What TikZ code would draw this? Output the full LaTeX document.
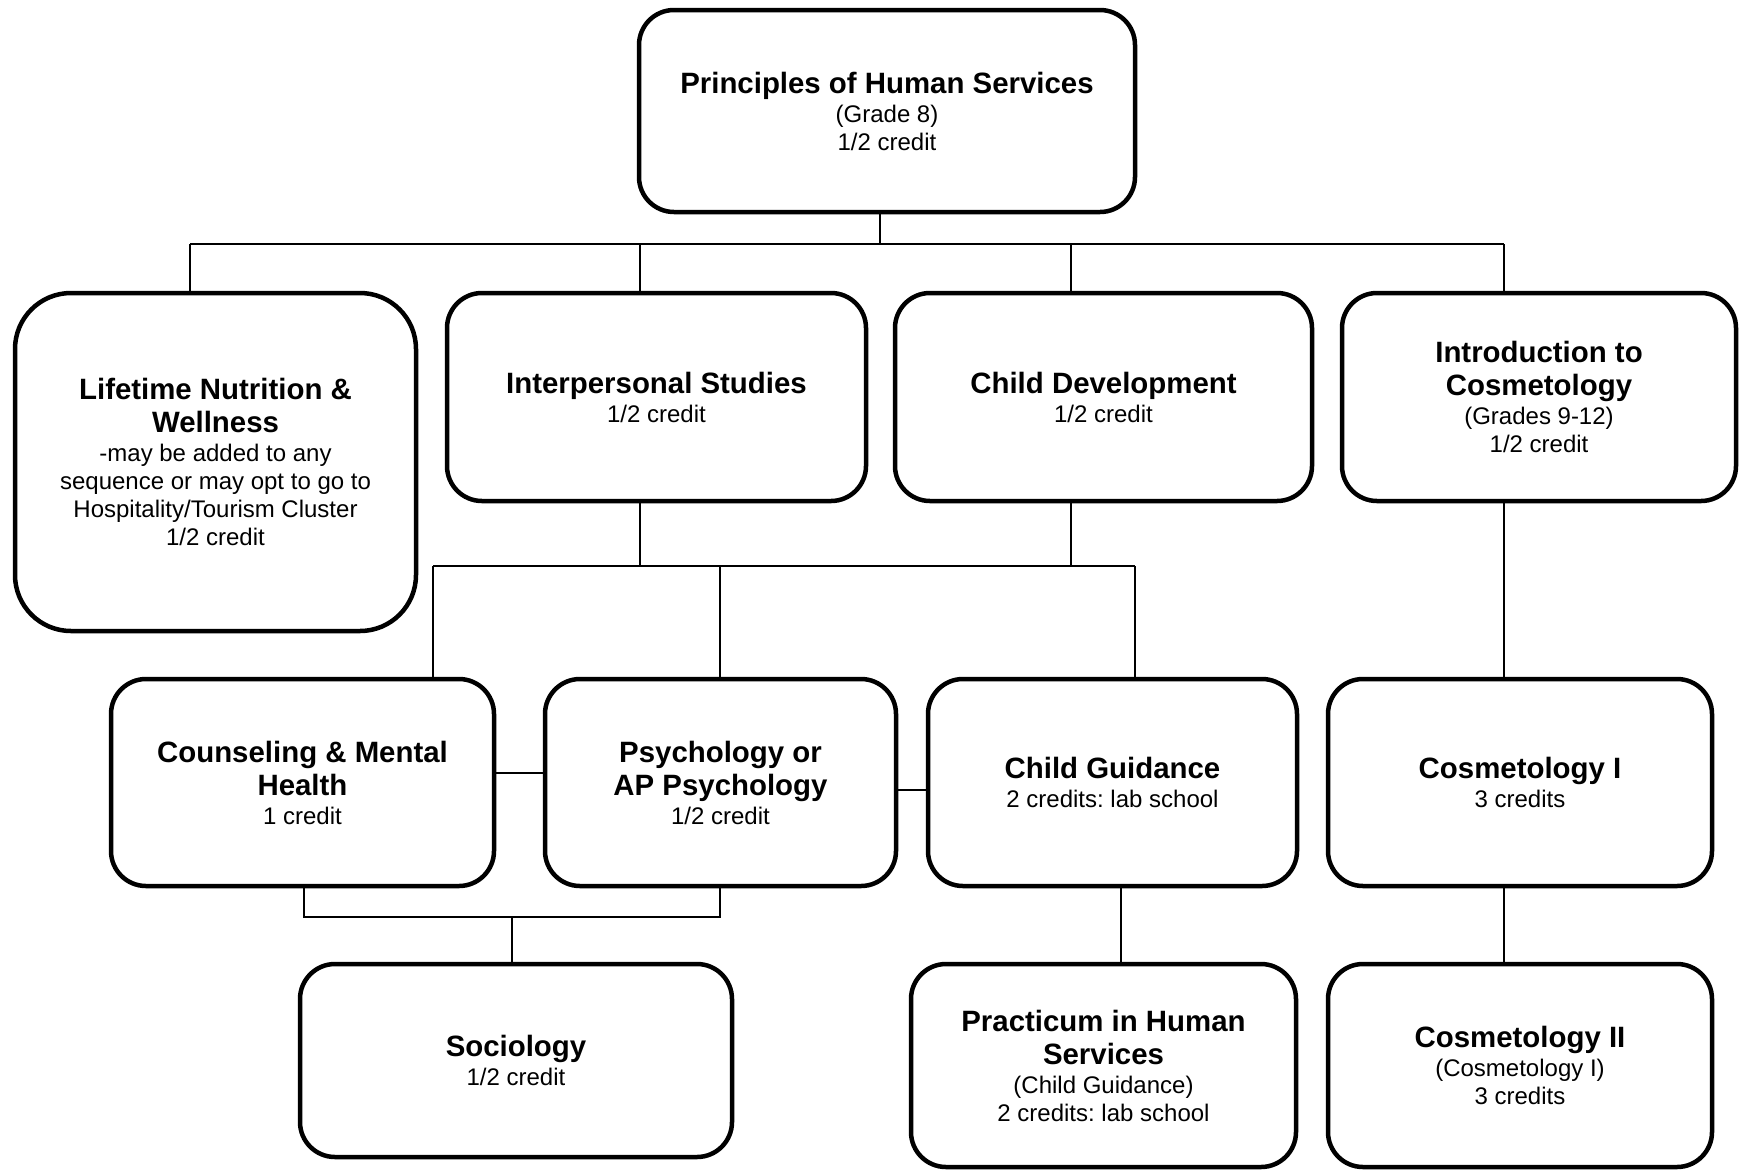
\documentclass[tikz,border=0pt]{standalone}
\usepackage{fontspec}
\setmainfont{Liberation Sans}
\frenchspacing
\newcommand\bt{\fontsize{29.4}{33}\selectfont\bfseries}
\newcommand\rt{\fontsize{24}{28}\selectfont}
\begin{document}
\begin{tikzpicture}[x=1pt,y=-1pt,
  box/.style={draw, line width=4.5pt, rounded corners=35pt, inner sep=0pt, align=center, font=\rt, fill=white},
  sz/.style 2 args={minimum width=#1, minimum height=#2},
  conn/.style={line width=1.3pt}]
\useasboundingbox (0,0) rectangle (1740,1171);

\node[box, sz={496pt}{202pt}] (top) at (887,111) {{\bt Principles of Human Services}\\[1pt](Grade 8)\\1/2 credit};
\node[box, sz={401pt}{338pt}, rounded corners=56pt] (life) at (215.5,462) {{\bt Lifetime Nutrition \&}\\[5pt]{\bt Wellness}\\[1pt]-may be added to any\\sequence or may opt to go to\\Hospitality/Tourism Cluster\\1/2 credit};
\node[box, sz={419pt}{208pt}] (inter) at (656.5,397) {{\bt Interpersonal Studies}\\[1pt]1/2 credit};
\node[box, sz={417pt}{208pt}] (child) at (1103.5,397) {{\bt Child Development}\\[1pt]1/2 credit};
\node[box, sz={394pt}{208pt}] (intro) at (1539,397) {{\bt Introduction to}\\[5pt]{\bt Cosmetology}\\[1pt](Grades 9-12)\\1/2 credit};
\node[box, sz={383pt}{207pt}] (couns) at (302.5,782.5) {{\bt Counseling \& Mental}\\[5pt]{\bt Health}\\[1pt]1 credit};
\node[box, sz={351pt}{207pt}] (psych) at (720.5,782.5) {{\bt Psychology or}\\[5pt]{\bt AP Psychology}\\[1pt]1/2 credit};
\node[box, sz={369pt}{207pt}] (cg) at (1112.5,782.5) {{\bt Child Guidance}\\[1pt]2 credits: lab school};
\node[box, sz={384pt}{207pt}] (cos1) at (1520,782.5) {{\bt Cosmetology I}\\[1pt]3 credits};
\node[box, sz={432pt}{193pt}] (soc) at (516,1060.5) {{\bt Sociology}\\[1pt]1/2 credit};
\node[box, sz={385pt}{203pt}] (prac) at (1103.5,1065.5) {{\bt Practicum in Human}\\[5pt]{\bt Services}\\[1pt](Child Guidance)\\2 credits: lab school};
\node[box, sz={384pt}{203pt}] (cos2) at (1520,1065.5) {{\bt Cosmetology II}\\[1pt](Cosmetology I)\\3 credits};

\coordinate (b0) at (880,244);
\coordinate (bL) at (190,244);
\coordinate (bI) at (640,244);
\coordinate (bC) at (1071,244);
\coordinate (bR) at (1504,244);
\draw[conn] (b0 |- top.south) -- (b0);
\draw[conn] (bL) -- (bR);
\draw[conn] (bL) -- (bL |- life.north);
\draw[conn] (bI) -- (bI |- inter.north);
\draw[conn] (bC) -- (bC |- child.north);
\draw[conn] (bR) -- (bR |- intro.north);

\coordinate (m1) at (433,566);
\coordinate (m2) at (720,566);
\coordinate (m3) at (1135,566);
\draw[conn] (bI |- inter.south) -- (bI |- m1);
\draw[conn] (bC |- child.south) -- (bC |- m1);
\draw[conn] (m1) -- (m3);
\draw[conn] (m1) -- (m1 |- couns.north);
\draw[conn] (m2) -- (m2 |- psych.north);
\draw[conn] (m3) -- (m3 |- cg.north);
\draw[conn] (bR |- intro.south) -- (bR |- cos1.north);
\draw[conn] (bR |- cos1.south) -- (bR |- cos2.north);

\coordinate (h1) at (0,773);
\coordinate (h2) at (0,790);
\draw[conn] (couns.east |- h1) -- (psych.west |- h1);
\draw[conn] (psych.east |- h2) -- (cg.west |- h2);

\coordinate (s1) at (304,917);
\coordinate (s2) at (720,917);
\coordinate (s3) at (512,917);
\draw[conn] (s1 |- couns.south) -- (s1) -- (s2) -- (s2 |- psych.south);
\draw[conn] (s3) -- (s3 |- soc.north);
\coordinate (p1) at (1121,0);
\draw[conn] (p1 |- cg.south) -- (p1 |- prac.north);
\end{tikzpicture}
\end{document}
